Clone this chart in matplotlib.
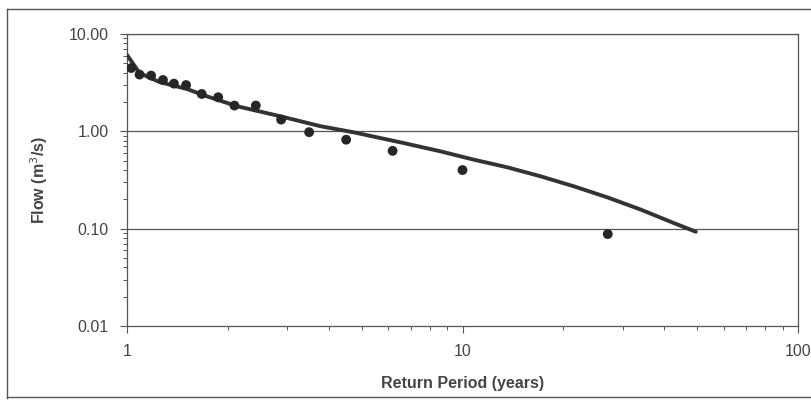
import matplotlib.pyplot as plt
from matplotlib.ticker import FixedLocator, FixedFormatter, LogLocator, NullFormatter
from matplotlib.lines import Line2D

plt.rcParams['font.family'] = ['Liberation Sans', 'DejaVu Sans']

# observed flows (plotting positions)
obs_T = [1.03, 1.09, 1.18, 1.28, 1.38, 1.50, 1.67, 1.87, 2.09, 2.42, 2.88, 3.49, 4.50, 6.19, 10.0, 27.1]
obs_Q = [4.47, 3.83, 3.74, 3.37, 3.09, 2.99, 2.42, 2.24, 1.84, 1.84, 1.32, 0.98, 0.82, 0.63, 0.40, 0.088]

# fitted curve
fit_T = [1.0, 1.09, 1.25, 1.51, 1.73, 2.13, 2.86, 3.77, 4.74, 6.68, 8.6, 10.8, 13.6,
         17.1, 21.5, 27.0, 34.0, 42.7, 49.6]
fit_Q = [6.1, 3.97, 3.21, 2.72, 2.29, 1.81, 1.43, 1.13, 0.977, 0.758, 0.623, 0.512, 0.427,
         0.345, 0.272, 0.210, 0.157, 0.114, 0.093]

ytick_vals = [0.01, 0.1, 1, 10]
ytick_labels = ['0.01', '0.10', '1.00', '10.00']
xtick_vals = [1, 10, 100]
xtick_labels = ['1', '10', '100']

fig = plt.figure(figsize=(8.11, 4.0), dpi=100)
ax = fig.add_axes([127/811, 1-326/400, (798-127)/811, (326-34)/400])

ax.set_xscale('log')
ax.set_yscale('log')
ax.set_xlim(1, 100)
ax.set_ylim(0.01, 10)

for v in [0.1, 1, 10]:
    ax.axhline(v, color='#555555', lw=0.9, zorder=1)

ax.plot(fit_T, fit_Q, color='#333333', lw=2.8, zorder=3, solid_capstyle='round',
        solid_joinstyle='round')
ax.scatter(obs_T, obs_Q, s=50, color='#262626', zorder=4, edgecolors='none')

ax.yaxis.set_major_locator(FixedLocator(ytick_vals))
ax.yaxis.set_major_formatter(FixedFormatter(ytick_labels))
ax.xaxis.set_major_locator(FixedLocator(xtick_vals))
ax.xaxis.set_major_formatter(FixedFormatter(xtick_labels))
ax.xaxis.set_minor_locator(LogLocator(base=10, subs=range(2, 10)))
ax.yaxis.set_minor_locator(LogLocator(base=10, subs=range(2, 10)))
ax.xaxis.set_minor_formatter(NullFormatter())
ax.yaxis.set_minor_formatter(NullFormatter())

ax.tick_params(axis='both', which='major', length=5, width=0.8, color='#555555',
               labelsize=11.5, labelcolor='#444444', pad=8)
ax.tick_params(axis='both', which='minor', length=3, width=0.7, color='#555555')
for sp in ax.spines.values():
    sp.set_color('#555555')
    sp.set_linewidth(0.9)

ax.set_xlabel('Return Period (years)', fontsize=11.5, fontweight='bold', color='#444444', labelpad=12)
ax.set_ylabel('Flow (m$^3$/s)', fontsize=11.5, fontweight='bold', color='#444444', labelpad=14)

# outer chart frame
fig.add_artist(Line2D([7/811, 7/811], [2/400, 1-9/400], transform=fig.transFigure, color='#555555', lw=1))
fig.add_artist(Line2D([7/811, 1], [1-9/400, 1-9/400], transform=fig.transFigure, color='#555555', lw=1))
fig.add_artist(Line2D([7/811, 1], [3/400, 3/400], transform=fig.transFigure, color='#555555', lw=1))

fig.savefig('out.png', dpi=100)
